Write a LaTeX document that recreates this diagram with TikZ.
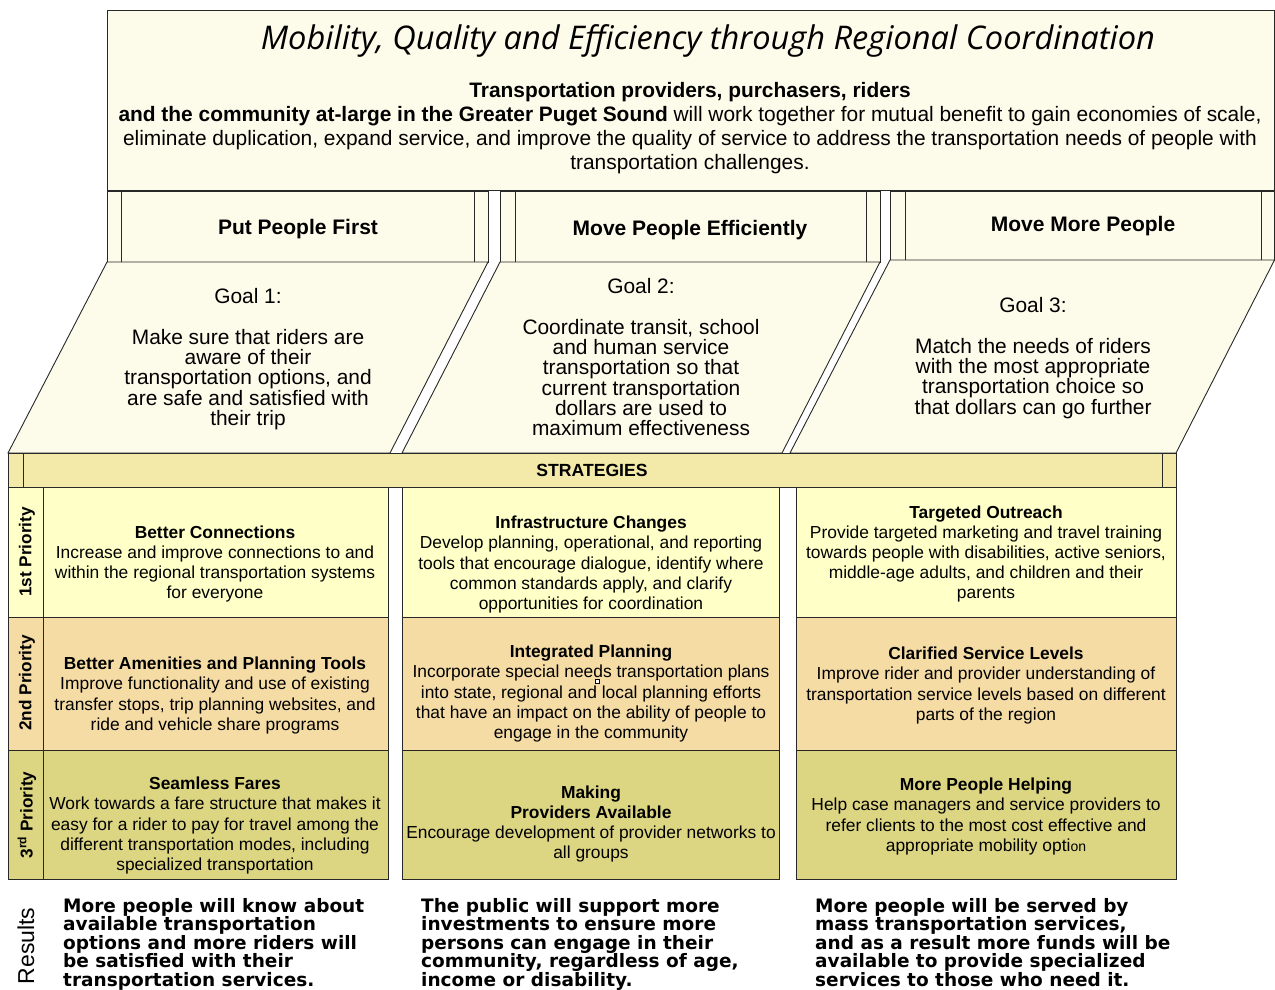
\documentclass[tikz,border=0pt]{standalone}
\usepackage{fontspec}
\setmainfont{Liberation Sans}
\newfontfamily\titlefont{Open Sans}
\newfontfamily\heavyfont{DejaVu Sans}
\definecolor{cream}{RGB}{253,251,234}
\definecolor{stratc}{RGB}{243,233,169}
\definecolor{rowa}{RGB}{255,255,200}
\definecolor{rowb}{RGB}{245,220,165}
\definecolor{rowc}{RGB}{220,213,130}
\definecolor{linec}{RGB}{40,40,40}
\tikzset{
  ln/.style={draw=linec, line width=0.9pt},
  body/.style={align=center, inner sep=0pt, font=\fontsize{17.4}{20.2}\selectfont},
  goaltxt/.style={align=center, inner sep=0pt, font=\fontsize{20.9}{20.2}\selectfont},
  headtxt/.style={inner sep=0pt, font=\bfseries\fontsize{21}{22}\selectfont},
  prio/.style={rotate=90, inner sep=0pt, font=\bfseries\fontsize{17.2}{18}\selectfont},
  restxt/.style={anchor=north west, align=left, inner sep=0pt, font=\heavyfont\bfseries\fontsize{18.5}{18.5}\selectfont}
}
\begin{document}
\begin{tikzpicture}[x=1pt,y=-1pt]
\useasboundingbox (0,0) rectangle (1275,989);
% top box
\path[ln, fill=cream] (107,10) rectangle (1274.5,190);
\node[inner sep=0pt, font=\titlefont\itshape\fontsize{32.6}{36}\selectfont] (title) at (708,41) {Mobility, Quality and Efficiency through Regional Coordination};
\node[align=center, inner sep=0pt, font=\fontsize{20.9}{24}\selectfont, anchor=north] (mission) at (690,82)
 {\textbf{Transportation providers, purchasers, riders}\\
  \textbf{and the community at-large in the Greater Puget Sound} will work together for mutual benefit to gain economies of scale,\\
  eliminate duplication, expand service, and improve the quality of service to address the transportation needs of people with\\
  transportation challenges.};
% header tabs
\path[ln, fill=cream] (107,191) rectangle (488,262);
\draw[ln] (121,191) -- (121,262) (474,191) -- (474,262);
\path[ln, fill=cream] (500,191) rectangle (880,262);
\draw[ln] (515,191) -- (515,262) (866,191) -- (866,262);
\path[ln, fill=cream] (890,191) rectangle (1274.5,260);
\draw[ln] (905,191) -- (905,260) (1261,191) -- (1261,260);
\node[headtxt] (h1) at (298,229) {Put People First};
\node[headtxt] (h2) at (690,230) {Move People Efficiently};
\node[headtxt] (h3) at (1083,226) {Move More People};
% goal parallelograms
\path[ln, fill=cream] (107,262) -- (488,262) -- (390,453) -- (8,453) -- cycle;
\path[ln, fill=cream] (500,262) -- (880,262) -- (782,453) -- (402,453) -- cycle;
\path[ln, fill=cream] (890,260) -- (1274.5,260) -- (1176,453) -- (790,453) -- cycle;
\node[goaltxt, anchor=north] (g1) at (248,288) {Goal 1:\\[21pt]Make sure that riders are\\aware of their\\transportation options, and\\are safe and satisfied with\\their trip};
\node[goaltxt, anchor=north] (g2) at (641,278) {Goal 2:\\[21pt]Coordinate transit, school\\and human service\\transportation so that\\current transportation\\dollars are used to\\maximum effectiveness};
\node[goaltxt, anchor=north] (g3) at (1033,297) {Goal 3:\\[21pt]Match the needs of riders\\with the most appropriate\\transportation choice so\\that dollars can go further};
% strategies bar
\path[ln, fill=stratc] (8,453) rectangle (1176,487);
\draw[ln] (23,453) -- (23,487) (1162,453) -- (1162,487);
\node[inner sep=0pt, font=\bfseries\fontsize{17.6}{18}\selectfont] (strat) at (592,470) {STRATEGIES};
% priority cells
\path[ln, fill=rowa] (8,487) rectangle (43,617);
\path[ln, fill=rowb] (8,617) rectangle (43,750);
\path[ln, fill=rowc] (8,750) rectangle (43,879);
\node[prio] (p1) at (27,552) {1st Priority};
\node[prio] (p2) at (27,683) {2nd Priority};
\node[prio] (p3) at (27,815) {3\textsuperscript{rd} Priority};
% column boxes
\foreach \xa/\xb in {43/388, 402/779, 796/1176}{
  \path[ln, fill=rowa] (\xa,487) rectangle (\xb,617);
  \path[ln, fill=rowb] (\xa,617) rectangle (\xb,750);
  \path[ln, fill=rowc] (\xa,750) rectangle (\xb,879);
}
% row 1
\node[body] (s11) at (215,564) {\textbf{Better Connections}\\Increase and improve connections to and\\within the regional transportation systems\\for everyone};
\node[body] (s12) at (591,564.5) {\textbf{Infrastructure Changes}\\Develop planning, operational, and reporting\\tools that encourage dialogue, identify where\\common standards apply, and clarify\\opportunities for coordination};
\node[body] (s13) at (986,554) {\textbf{Targeted Outreach}\\Provide targeted marketing and travel training\\towards people with disabilities, active seniors,\\middle-age adults, and children and their\\parents};
% row 2
\node[body] (s21) at (215,695.5) {\textbf{Better Amenities and Planning Tools}\\Improve functionality and use of existing\\transfer stops, trip planning websites, and\\ride and vehicle share programs};
\node[body] (s22) at (591,693.5) {\textbf{Integrated Planning}\\Incorporate special needs transportation plans\\into state, regional and local planning efforts\\that have an impact on the ability of people to\\engage in the community};
\node[body] (s23) at (986,685.5) {\textbf{Clarified Service Levels}\\Improve rider and provider understanding of\\transportation service levels based on different\\parts of the region};
\path[draw=black, line width=0.6pt, fill=white] (595.5,679.5) rectangle (599.5,683.5);
% row 3
\node[body] (s31) at (215,825.5) {\textbf{Seamless Fares}\\Work towards a fare structure that makes it\\easy for a rider to pay for travel among the\\different transportation modes, including\\specialized transportation};
\node[body] (s32) at (591,824) {\textbf{Making}\\\textbf{Providers Available}\\Encourage development of provider networks to\\all groups};
\node[body] (s33) at (986,816.5) {\textbf{More People Helping}\\Help case managers and service providers to\\refer clients to the most cost effective and\\appropriate mobility opti{\fontsize{14}{20.2}\selectfont on}};
% results
\node[rotate=90, inner sep=0pt, font=\fontsize{23}{24}\selectfont] (res) at (26,946) {Results};
\node[restxt] (r1) at (63,898) {More people will know about\\available transportation\\options and more riders will\\be satisfied with their\\transportation services.};
\node[restxt] (r2) at (421,898) {The public will support more\\investments to ensure more\\persons can engage in their\\community, regardless of age,\\income or disability.};
\node[restxt] (r3) at (815,898) {More people will be served by\\mass transportation services,\\and as a result more funds will be\\available to provide specialized\\services to those who need it.};
\end{tikzpicture}
\end{document}
